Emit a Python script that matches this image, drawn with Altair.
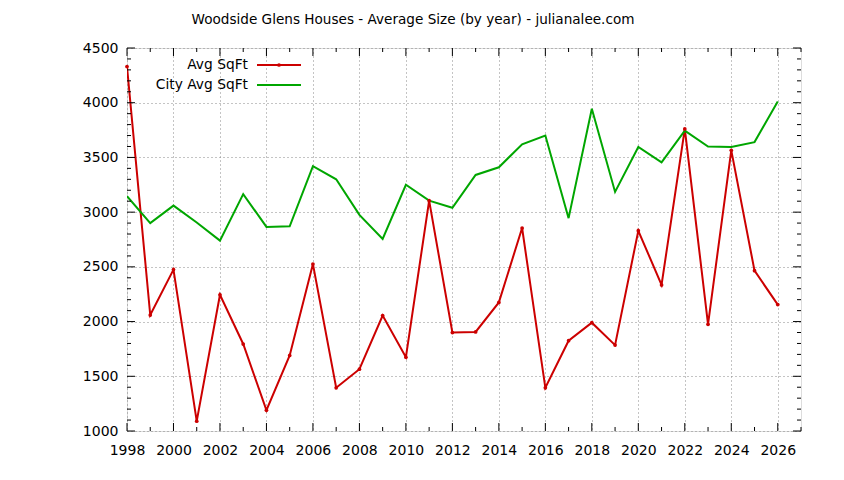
import altair as alt
import pandas as pd

# ---- data ----
years = list(range(1998, 2027))
avg_sqft = [4330, 2060, 2475, 1090, 2245, 1795, 1190, 1690, 2525, 1395,
            1565, 2055, 1675, 3105, 1900, 1905, 2175, 2855, 1395, 1825,
            1990, 1785, 2830, 2335, 3760, 1975, 3565, 2465, 2155]
city_avg_sqft = [3145, 2900, 3060, 2905, 2740, 3165, 2865, 2870, 3420, 3300,
                 2975, 2755, 3250, 3105, 3040, 3340, 3410, 3620, 3700, 2945,
                 3945, 3185, 3595, 3455, 3745, 3600, 3595, 3640, 4010]
series_names = ["Avg SqFt", "City Avg SqFt"]
series_colors = ["#cc0000", "#00a600"]
title_text = "Woodside Glens Houses - Average Size (by year) - julianalee.com"

x_domain = [1998, 2027]
y_domain = [1000, 4500]
x_tick_years = list(range(1998, 2028))
y_major = list(range(1000, 4501, 500))
y_minor = [v for v in range(1000, 4501, 100) if v % 500 != 0]
x_major = [y for y in x_tick_years if y % 2 == 0]
x_minor = [y for y in x_tick_years if y % 2 == 1]

W, H = 674, 383
FONT = "DejaVu Sans"

df = pd.DataFrame({
    "year": years * 2,
    "value": avg_sqft + city_avg_sqft,
    "series": [series_names[0]] * len(years) + [series_names[1]] * len(years),
})

xs = alt.Scale(domain=x_domain, nice=False, zero=False)
ys = alt.Scale(domain=y_domain, nice=False, zero=False)
cs = alt.Scale(domain=series_names, range=series_colors)

x_axis = alt.Axis(values=x_tick_years, format="d", grid=True, gridDash=[1, 3],
                  gridColor="#888888", gridWidth=1, ticks=False, domain=False,
                  labelExpr="datum.value % 2 == 0 && datum.value < 2027 ? datum.label : ''",
                  labelFont=FONT, labelFontSize=14, labelColor="black",
                  labelPadding=12, title=None, labelFlush=False)
y_axis = alt.Axis(values=y_major, format="d", grid=True, gridDash=[1, 3],
                  gridColor="#888888", gridWidth=1, ticks=False, domain=False,
                  labelFont=FONT, labelFontSize=14, labelColor="black",
                  labelPadding=9, title=None, labelFlush=False)

base = alt.Chart(df)

lines = base.mark_line(strokeWidth=2, clip=True).encode(
    x=alt.X("year:Q", scale=xs, axis=x_axis),
    y=alt.Y("value:Q", scale=ys, axis=y_axis),
    color=alt.Color("series:N", scale=cs, legend=None),
)
points = base.transform_filter(
    alt.datum.series == series_names[0]
).mark_point(filled=True, size=14, shape="circle", opacity=1).encode(
    x=alt.X("year:Q", scale=xs),
    y=alt.Y("value:Q", scale=ys),
    color=alt.Color("series:N", scale=cs, legend=None),
)

# ---- inward ticks on all four sides ----
def xticks(vals, length):
    d = pd.DataFrame({"year": vals})
    bottom = alt.Chart(d).mark_rule(color="black", strokeWidth=1).encode(
        x=alt.X("year:Q", scale=xs), y=alt.value(H), y2=alt.value(H - length))
    top = alt.Chart(d).mark_rule(color="black", strokeWidth=1).encode(
        x=alt.X("year:Q", scale=xs), y=alt.value(0), y2=alt.value(length))
    return [bottom, top]

def yticks(vals, length):
    d = pd.DataFrame({"value": vals})
    left = alt.Chart(d).mark_rule(color="black", strokeWidth=1).encode(
        y=alt.Y("value:Q", scale=ys), x=alt.value(0), x2=alt.value(length))
    right = alt.Chart(d).mark_rule(color="black", strokeWidth=1).encode(
        y=alt.Y("value:Q", scale=ys), x=alt.value(W), x2=alt.value(W - length))
    return [left, right]

tick_layers = xticks(x_major, 8) + xticks(x_minor, 4) + yticks(y_major, 8) + yticks(y_minor, 4)

# ---- legend (top-left, labels right-aligned to the left of samples) ----
leg_df = pd.DataFrame({"series": series_names, "row": [0, 1]})
legend_layers = []
for i, name in enumerate(series_names):
    yy = 17 + 20 * i
    one = alt.Chart(leg_df).transform_filter(alt.datum.series == name)
    legend_layers.append(one.mark_text(align="right", baseline="middle", font=FONT,
                                       fontSize=13.8, color="black").encode(
        text="series:N", x=alt.value(121), y=alt.value(yy)))
    legend_layers.append(one.mark_rule(strokeWidth=2).encode(
        x=alt.value(130), x2=alt.value(174), y=alt.value(yy),
        color=alt.Color("series:N", scale=cs, legend=None)))
    if i == 0:
        legend_layers.append(one.mark_point(filled=True, size=14, shape="circle", opacity=1).encode(
            x=alt.value(152), y=alt.value(yy),
            color=alt.Color("series:N", scale=cs, legend=None)))

title = alt.Chart(pd.DataFrame({"t": [title_text]})).mark_text(
    align="center", baseline="alphabetic", font=FONT, fontSize=13.6, color="black"
).encode(text="t:N", x=alt.value(286), y=alt.value(-24))

chart = alt.layer(lines, points, *tick_layers, *legend_layers, title).properties(
    width=W, height=H,
    padding={"left": 119, "top": 40, "right": 35, "bottom": 41},
    autosize=alt.AutoSizeParams(type="none"),
).configure_view(stroke="black", strokeWidth=1).configure(background="white")

chart.save("out.html", embed_options={"renderer": "svg", "actions": False})
